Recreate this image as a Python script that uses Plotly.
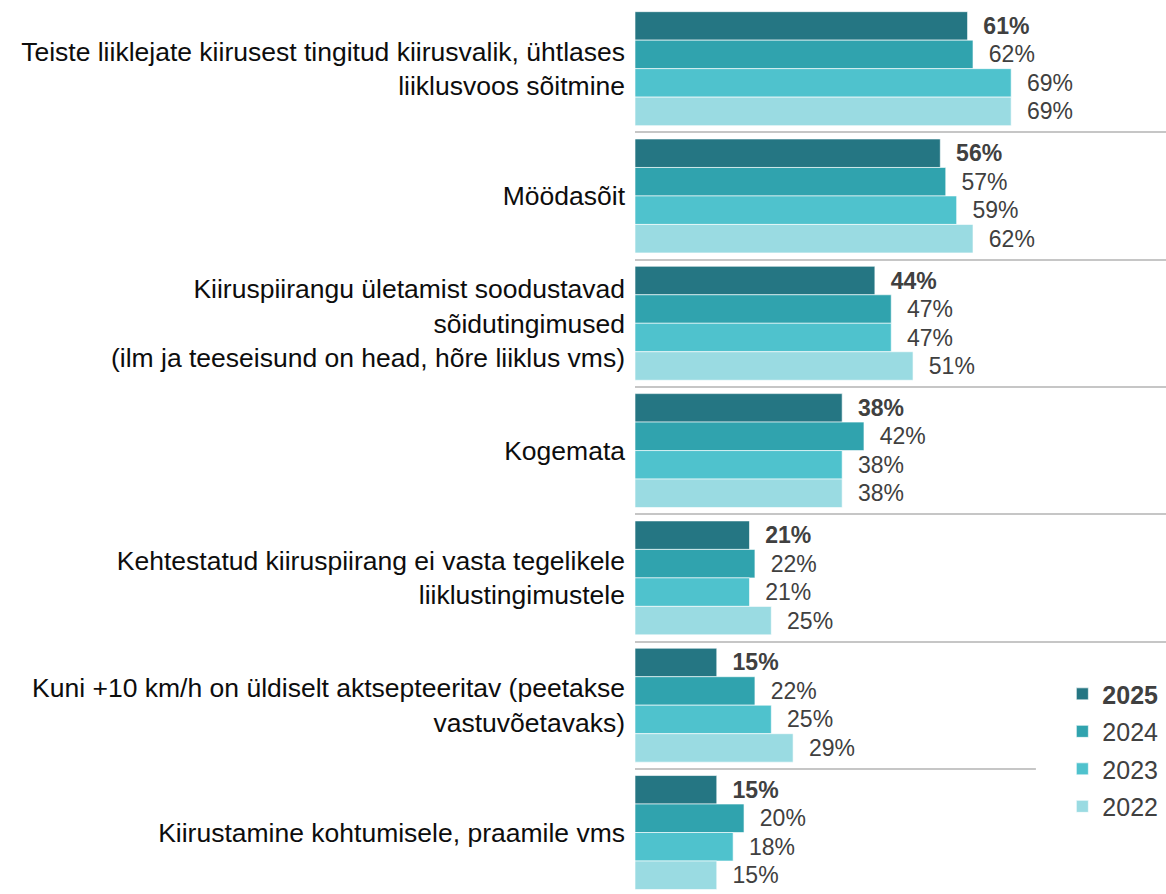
import plotly.graph_objects as go

categories = [
    "Teiste liiklejate kiirusest tingitud kiirusvalik, ühtlases<br>liiklusvoos sõitmine",
    "Möödasõit",
    "Kiiruspiirangu ületamist soodustavad<br>sõidutingimused<br>(ilm ja teeseisund on head, hõre liiklus vms)",
    "Kogemata",
    "Kehtestatud kiiruspiirang ei vasta tegelikele<br>liiklustingimustele",
    "Kuni +10 km/h on üldiselt aktsepteeritav (peetakse<br>vastuvõetavaks)",
    "Kiirustamine kohtumisele, praamile vms",
]
years = ["2025", "2024", "2023", "2022"]
v2025 = [61, 56, 44, 38, 21, 15, 15]
v2024 = [62, 57, 47, 42, 22, 22, 20]
v2023 = [69, 59, 47, 38, 21, 25, 18]
v2022 = [69, 62, 51, 38, 25, 29, 15]
series = [v2025, v2024, v2023, v2022]
colors = ["#257683", "#30A3AE", "#4FC2CD", "#9ADBE2"]

fig = go.Figure()
for i, (yr, vals, col) in enumerate(zip(years, series, colors)):
    bold = i == 0
    fig.add_trace(go.Bar(
        y=categories, x=vals, orientation="h",
        name=f"<b>{yr}</b>" if bold else yr,
        legendgroup=yr,
        marker=dict(color=col, line=dict(color="rgba(255,255,255,0.6)", width=1)),
        text=[f"\u00a0\u00a0<b>{v}%</b>" if bold else f"\u00a0\u00a0{v}%" for v in vals],
        textposition="outside",
        constraintext="none",
        cliponaxis=False,
        textfont=dict(family="Liberation Sans, Arial, sans-serif", size=23, color="#404040"),
    ))

fig.update_layout(
    width=1166, height=894,
    margin=dict(l=635, r=0, t=5, b=0),
    barmode="group",
    bargap=0.105,
    bargroupgap=0,
    plot_bgcolor="white",
    paper_bgcolor="white",
    font=dict(family="Liberation Sans, Arial, sans-serif", size=26.5, color="#0d0d0d"),
    showlegend=True,
    legend=dict(
        x=0.995, xanchor="right", y=0.073, yanchor="bottom",
        font=dict(size=25, color="#404040"),
        traceorder="grouped",
        tracegroupgap=2,
        bgcolor="rgba(255,255,255,0)",
    ),
    shapes=[dict(
        type="rect", xref="paper", yref="paper",
        x0=0.755, x1=1.0, y0=0.09, y1=0.24,
        fillcolor="white", line=dict(width=0), layer="above",
    )],
    xaxis=dict(range=[0, 97.4], visible=False),
    yaxis=dict(
        type="category",
        categoryorder="array", categoryarray=categories,
        range=[6.483, -0.5],
        tickson="boundaries",
        showgrid=True, gridcolor="#C6C6C6", gridwidth=1.5,
        ticks="", ticklabelstandoff=9,
        showline=False, zeroline=False,
        tickfont=dict(size=26.5, color="#0d0d0d"),
    ),
)

fig.write_html("out.html", config={"displayModeBar": False},
               post_script="document.body.style.margin='0px';")
